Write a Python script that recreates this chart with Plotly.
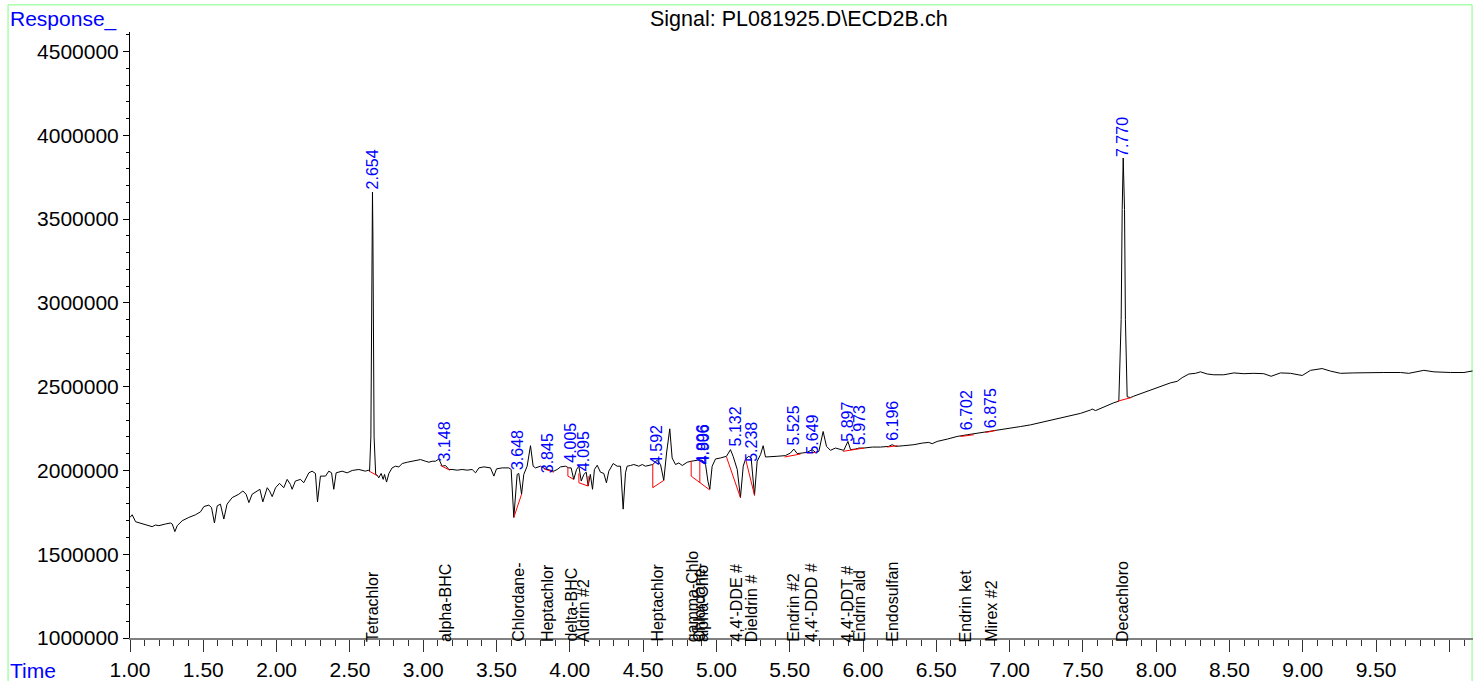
import plotly.graph_objects as go

# ---------------- data ----------------
time_min = [
    1.000, 1.015, 1.038, 1.083, 1.128, 1.151, 1.174, 1.197, 1.242, 1.276, 1.288, 1.306, 1.322,
    1.356, 1.401, 1.447, 1.481, 1.504, 1.538, 1.556, 1.576, 1.595, 1.617, 1.640, 1.662, 1.697,
    1.742, 1.770, 1.792, 1.811, 1.833, 1.867, 1.886, 1.906, 1.936, 1.952, 1.970, 1.993, 2.020,
    2.049, 2.072, 2.094, 2.106, 2.128, 2.163, 2.185, 2.220, 2.242, 2.265, 2.279, 2.299, 2.334,
    2.356, 2.375, 2.390, 2.406, 2.447, 2.481, 2.516, 2.561, 2.584, 2.606, 2.625,
    2.634, 2.643, 2.648, 2.651, 2.654, 2.657, 2.660, 2.665, 2.676,
    2.686, 2.697, 2.713, 2.727, 2.736, 2.750, 2.766, 2.788, 2.811, 2.834, 2.857, 2.891, 2.925,
    2.959, 2.982, 3.016, 3.039, 3.061, 3.084, 3.107, 3.129, 3.152, 3.175, 3.197, 3.232, 3.266,
    3.300, 3.334, 3.357, 3.380, 3.414, 3.459, 3.482, 3.500, 3.539, 3.584, 3.600, 3.618, 3.641,
    3.652, 3.671, 3.686, 3.709, 3.732, 3.750, 3.766, 3.800, 3.834, 3.868, 3.891, 3.914, 3.937,
    3.971, 3.993, 4.009, 4.027, 4.046, 4.062, 4.078, 4.096, 4.112, 4.125, 4.140, 4.155, 4.168,
    4.187, 4.209, 4.232, 4.250, 4.266, 4.296, 4.323, 4.346, 4.364, 4.380, 4.391, 4.414, 4.437,
    4.471, 4.494, 4.516, 4.539, 4.566, 4.596, 4.619, 4.641, 4.660, 4.682, 4.698, 4.721, 4.744,
    4.767, 4.801, 4.828, 4.869, 4.903, 4.926, 4.942, 4.955, 4.971, 4.994, 5.028, 5.069, 5.096,
    5.114, 5.142, 5.164, 5.183, 5.199, 5.221, 5.237, 5.260, 5.278, 5.301, 5.319, 5.335, 5.369,
    5.415, 5.471, 5.505, 5.528, 5.551, 5.585, 5.619, 5.653, 5.676, 5.699, 5.728, 5.751, 5.778,
    5.812, 5.847, 5.869, 5.897, 5.915, 5.949, 5.972, 6.006, 6.063, 6.119, 6.176, 6.199, 6.222,
    6.279, 6.347, 6.404, 6.449, 6.472, 6.506, 6.574, 6.642, 6.711, 6.756, 6.802, 6.870, 6.938,
    7.006, 7.074, 7.143, 7.211, 7.279, 7.347, 7.415, 7.484, 7.552, 7.563, 7.586, 7.620, 7.666,
    7.711, 7.745, 7.761, 7.768, 7.775, 7.784, 7.790, 7.802, 7.825, 7.848, 7.870, 7.916, 7.961,
    8.007, 8.052, 8.098, 8.143, 8.177, 8.223, 8.268, 8.302, 8.348, 8.393, 8.461, 8.530, 8.598,
    8.666, 8.734, 8.784, 8.848, 8.916, 8.996, 9.053, 9.132, 9.189, 9.257, 9.348, 9.439, 9.553,
    9.667, 9.723, 9.826, 9.894, 10.008, 10.099, 10.158,
]
response = [
    1719500, 1735500, 1694000, 1680500, 1670400, 1664500, 1674500, 1670400, 1680500, 1686400, 1680500, 1635000, 1670400,
    1700000, 1719500, 1735500, 1753000, 1784600, 1793000, 1778700, 1686400, 1788700, 1798800, 1710000, 1798800, 1837900,
    1858000, 1877500, 1858000, 1808300, 1858000, 1877500, 1887600, 1812400, 1897000, 1877500, 1843800, 1897000, 1923000,
    1897000, 1946700, 1917000, 1887600, 1936700, 1946700, 1926600, 1985800, 1995800, 1982200, 1812400, 1966300, 1966300,
    1995800, 1985800, 1887600, 1985800, 1995800, 1985800, 2000000, 2005900, 2000000, 1995800, 2001700,
    1995000, 2200000, 2900000, 3400000, 3662000, 3400000, 2900000, 2200000, 1975000,
    1972000, 1956200, 1982200, 1946700, 1976300, 1930700, 1982200, 2015400, 2025400, 2021300, 2041400, 2049100, 2055000,
    2060900, 2065100, 2055000, 2049100, 2055000, 2055000, 2068600, 2025400, 2029600, 2005900, 2005900, 2001800, 2005900,
    2001800, 2005900, 1985800, 2015400, 2021300, 2015400, 1966300, 2009500, 2015400, 2015400, 2005900, 1719500, 1976300,
    1982200, 1858000, 1976300, 2025400, 2147900, 2025400, 2015400, 2025400, 2009500, 2001800, 1995800, 2005900, 2021300,
    2025400, 2015400, 2015400, 1946700, 2005900, 2025400, 1936700, 1976300, 1990000, 1907000, 1976300, 1887600, 2005900,
    2031300, 1989900, 1982200, 1926600, 1995800, 2041400, 2025400, 2025400, 1769200, 1985800, 2025400, 2029600, 2035500,
    2025400, 2035500, 2025400, 2029600, 2035500, 2060900, 2035500, 1940800, 2104100, 2248500, 2074500, 2035500, 2044900,
    2029600, 2049100, 2055000, 2060900, 2060900, 2035500, 1936700, 1887600, 2025400, 2068600, 2074500, 2084600, 2124200,
    2084600, 2005900, 1837900, 2025400, 2068600, 2084600, 2074500, 1852000, 2055000, 2094600, 2147900, 2080400, 2080400,
    2084600, 2088700, 2104100, 2127800, 2100600, 2104100, 2108200, 2124200, 2108200, 2114200, 2232500, 2143800, 2120100,
    2133700, 2124200, 2120100, 2173300, 2124200, 2127800, 2133700, 2133700, 2139600, 2139600, 2143800, 2153800, 2143800,
    2147900, 2153800, 2163300, 2167400, 2159700, 2173300, 2187000, 2202900, 2213000, 2218900, 2222400, 2232500, 2242600,
    2252000, 2262100, 2272200, 2285800, 2301700, 2311200, 2325400, 2340800, 2360900, 2366800, 2357400, 2370400, 2390500,
    2404100, 2413600, 2900000, 3557300, 3865000, 3557300, 2900000, 2439600, 2435000, 2443700, 2450800, 2465600, 2483400,
    2494600, 2510000, 2523000, 2531900, 2553800, 2575700, 2579800, 2588700, 2575700, 2571000, 2571000, 2582200, 2577500,
    2579800, 2577500, 2562100, 2582200, 2579800, 2566800, 2597600, 2608200, 2592900, 2579800, 2582200, 2584600, 2584600,
    2584600, 2579800, 2597600, 2588700, 2584600, 2584600, 2594000,
]

# integration baselines (red)
baseline_t = [
    [2.634, 2.684], [3.118, 3.182], [3.618, 3.671], [3.823, 3.891],
    [3.987, 3.987, 4.027], [4.062, 4.062, 4.125, 4.125], [4.566, 4.566, 4.641],
    [4.828, 4.828, 4.955], [4.887, 4.887], [5.069, 5.164], [5.199, 5.260],
    [5.465, 5.574], [5.619, 5.683], [5.865, 6.006], [6.165, 6.234],
    [6.665, 6.756], [6.836, 6.904], [7.738, 7.829],
]
baseline_r = [
    [1995000, 1970000], [2029600, 2001800], [1719500, 1858000], [2009500, 1989900],
    [2019500, 1966300, 1946700], [1982200, 1926600, 1907000, 1966300], [2035500, 1897000, 1940800],
    [2055000, 1966300, 1883400], [2060900, 1926600], [2080000, 1837900], [2068600, 1852000],
    [2080400, 2098200], [2104100, 2108200], [2114200, 2133700], [2139600, 2147900],
    [2202900, 2213000], [2226600, 2238400], [2413600, 2435000],
]

# retention-time labels (blue)
rt_text = ["2.654", "3.148", "3.648", "3.845", "4.005", "4.095", "4.592", "4.896", "4.906",
           "5.132", "5.238", "5.525", "5.649", "5.897", "5.973", "6.196", "6.702", "6.875", "7.770"]
rt_time = [2.654, 3.148, 3.648, 3.845, 4.005, 4.095, 4.592, 4.903, 4.909,
           5.132, 5.238, 5.525, 5.649, 5.897, 5.973, 6.196, 6.702, 6.875, 7.770]
rt_resp = [3692000, 2065000, 2015400, 1995800, 2055000, 2005900, 2041400, 2049100, 2049100,
           2153800, 2065000, 2163300, 2104100, 2183400, 2163300, 2187000, 2252000, 2266200, 3885800]

# compound names (black, at the time axis)
cmp_text = ["Tetrachlor", "alpha-BHC", "Chlordane-", "Heptachlor", "delta-BHC", "Aldrin #2",
            "Heptachlor", "gamma-Chlo", "Chlordane-", "alpha-Chlo", "4,4'-DDE #", "Dieldrin #",
            "Endrin #2", "4,4'-DDD #", "4,4'-DDT #", "Endrin ald", "Endosulfan", "Endrin ket",
            "Mirex #2", "Decachloro"]
cmp_time = [2.654, 3.148, 3.648, 3.845, 4.005, 4.095, 4.592, 4.836, 4.886, 4.906, 5.132, 5.238,
            5.525, 5.649, 5.897, 5.973, 6.196, 6.702, 6.875, 7.770]

x_tick_vals = [1.0, 1.5, 2.0, 2.5, 3.0, 3.5, 4.0, 4.5, 5.0, 5.5, 6.0, 6.5, 7.0, 7.5, 8.0, 8.5, 9.0, 9.5, 10.0]
x_tick_text = ["1.00", "1.50", "2.00", "2.50", "3.00", "3.50", "4.00", "4.50", "5.00", "5.50",
               "6.00", "6.50", "7.00", "7.50", "8.00", "8.50", "9.00", "9.50", ""]
y_tick_vals = [1000000, 1500000, 2000000, 2500000, 3000000, 3500000, 4000000, 4500000]
y_tick_text = ["1000000", "1500000", "2000000", "2500000", "3000000", "3500000", "4000000", "4500000"]

title_text = "Signal: PL081925.D\\ECD2B.ch"

# ---------------- figure ----------------
FONT = "Arial, 'Liberation Sans', sans-serif"
BLUE = "#0000FF"

bx, by = [], []
for ts, rs in zip(baseline_t, baseline_r):
    bx += ts + [None]
    by += rs + [None]

fig = go.Figure()
fig.add_trace(go.Scatter(x=time_min, y=response, mode="lines",
                         line=dict(color="black", width=1), hoverinfo="skip", showlegend=False))
fig.add_trace(go.Scatter(x=bx, y=by, mode="lines",
                         line=dict(color="#FF0000", width=1), hoverinfo="skip", showlegend=False))

ann = []
for t, r, s in zip(rt_time, rt_resp, rt_text):
    ann.append(dict(x=t, y=r, xref="x", yref="y", text=s, textangle=-90, showarrow=False,
                    xanchor="center", yanchor="bottom", borderpad=0, yshift=-3,
                    font=dict(family=FONT, size=16, color=BLUE)))
for t, s in zip(cmp_time, cmp_text):
    ann.append(dict(x=t, y=1000000, xref="x", yref="y", text=s, textangle=-90, showarrow=False,
                    xanchor="center", yanchor="bottom", borderpad=0, yshift=-5,
                    font=dict(family=FONT, size=16, color="black")))
ann.append(dict(x=0.498, y=1.021, xref="paper", yref="paper", text=title_text, showarrow=False,
                xanchor="center", yanchor="middle", font=dict(family=FONT, size=21.5, color="black")))
ann.append(dict(x=-0.0905, y=1.021, xref="paper", yref="paper", text="Response_", showarrow=False,
                xanchor="left", yanchor="middle", font=dict(family=FONT, size=21, color=BLUE)))
ann.append(dict(x=-0.0905, y=-0.053, xref="paper", yref="paper", text="Time", showarrow=False,
                xanchor="left", yanchor="middle", font=dict(family=FONT, size=21, color=BLUE)))

fig.update_layout(
    width=1473, height=681,
    margin=dict(l=130, r=0, t=32, b=38),
    paper_bgcolor="white", plot_bgcolor="white",
    showlegend=False,
    annotations=ann,
    shapes=[dict(type="rect", xref="paper", yref="paper",
                 x0=-0.0908, x1=0.9993, y0=-0.3, y1=1.0448,
                 line=dict(color="#80FF80", width=1), fillcolor="rgba(0,0,0,0)", layer="below")],
    xaxis=dict(range=[1.0, 10.161], showgrid=False, zeroline=False,
               showline=True, linecolor="#808080", linewidth=2,
               ticks="outside", ticklen=12, tickwidth=1, tickcolor="#333333",
               tickvals=x_tick_vals, ticktext=x_tick_text,
               tickfont=dict(family=FONT, size=21, color="black"),
               minor=dict(dtick=0.1, tick0=1.0, ticks="outside", ticklen=6,
                          tickcolor="#333333", showgrid=False)),
    yaxis=dict(range=[1000000, 4617000], showgrid=False, zeroline=False,
               showline=True, linecolor="black", linewidth=1,
               ticks="outside", ticklen=6, tickwidth=1, tickcolor="black",
               tickvals=y_tick_vals, ticktext=y_tick_text,
               tickfont=dict(family=FONT, size=21, color="black"),
               minor=dict(dtick=100000, tick0=1000000, ticks="outside", ticklen=3,
                          tickcolor="black", showgrid=False)),
)

fig.write_html("out.html", config={"displayModeBar": False},
               post_script="document.body.style.margin='0';")
